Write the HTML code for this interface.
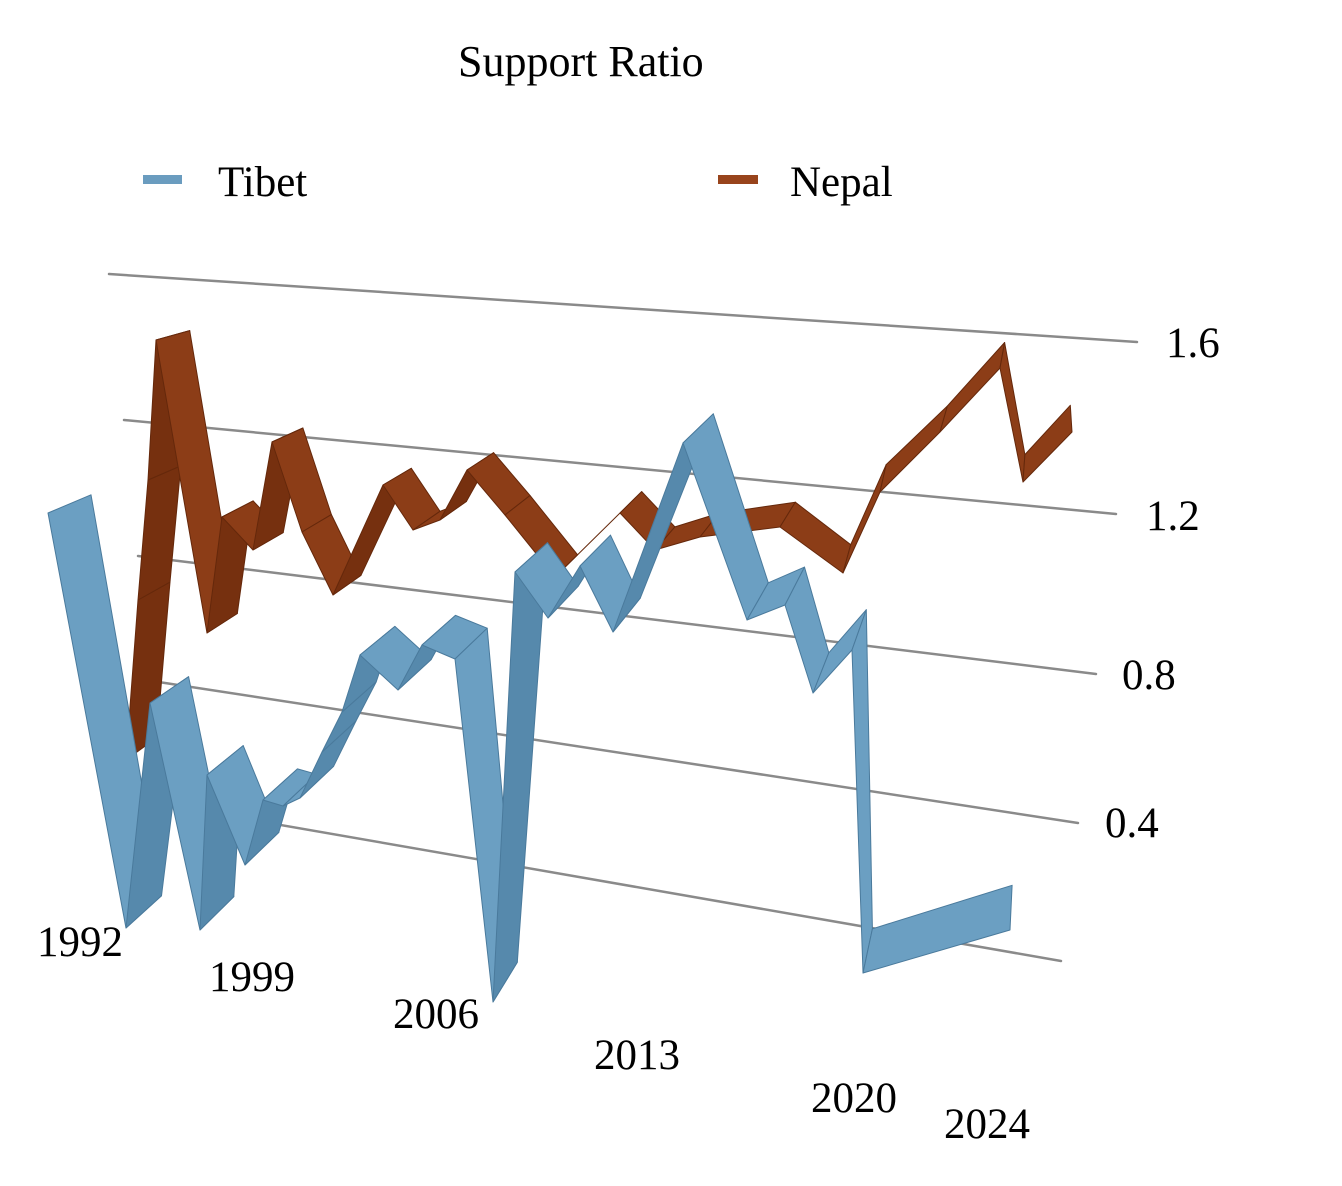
<!DOCTYPE html>
<html><head><meta charset="utf-8"><style>
html,body{margin:0;padding:0;background:#fff;}
svg{display:block;}
text{font-family:"Liberation Serif","DejaVu Serif",serif;fill:#000;}
</style></head><body>
<svg id="c" width="1342" height="1186" viewBox="0 0 1342 1186" xmlns="http://www.w3.org/2000/svg">
<rect width="1342" height="1186" fill="#fff"/>
<text x="458" y="76" font-size="44">Support Ratio</text>
<rect x="143" y="175" width="39" height="9" fill="#6a9cbf"/>
<text x="218" y="196" font-size="43">Tibet</text>
<rect x="718" y="175" width="40" height="9" fill="#98441c"/>
<text x="790" y="196" font-size="43">Nepal</text>
<g stroke="#8a8a8a" stroke-width="2.5" stroke-linecap="round">
<line x1="109" y1="274" x2="1137" y2="342"/>
<line x1="124" y1="420" x2="1116" y2="514"/>
<line x1="138" y1="556" x2="1096" y2="674"/>
<line x1="152" y1="681" x2="1078" y2="823"/>
<line x1="166" y1="805" x2="1061" y2="961"/>
</g>
<g id="nepal"></g>
<g id="tibet"></g>
<g font-size="43">
<text x="1166" y="357">1.6</text>
<text x="1146" y="530">1.2</text>
<text x="1122" y="689">0.8</text>
<text x="1105" y="837">0.4</text>
<text x="37" y="956">1992</text>
<text x="209" y="991">1999</text>
<text x="393" y="1028">2006</text>
<text x="594" y="1069">2013</text>
<text x="811" y="1112">2020</text>
<text x="944" y="1138">2024</text>
</g>
</svg>
<script>
(function(){
var NS="http://www.w3.org/2000/svg";
var VP=[1050,90];
function mk(k0,k1,bend){return function(p){var dx=VP[0]-p[0],dy=VP[1]-p[1],d=Math.sqrt(dx*dx+dy*dy),L=k0+k1*d;
 var ux=dx/d,uy=dy/d;
 if(bend){var w=0.5*(1-Math.abs(p[0]-870)/90);if(w>0){ux=ux*(1-w);uy=uy*(1-w)-w;var n=Math.sqrt(ux*ux+uy*uy);ux/=n;uy/=n;}}
 return [ux*L,uy*L];};}
var dT=mk(38,0.008,false), dN=mk(22,0.014,true);
function ribbon(id,pts,df,top,bot,edge){
 var g=document.getElementById(id);
 for(var i=0;i<pts.length-1;i++){
  var a=pts[i],b=pts[i+1],da=df(a),db=df(b);
  var sx=b[0]-a[0],sy=b[1]-a[1];
  var mx=(da[0]+db[0])/2,my=(da[1]+db[1])/2;
  var cr=sx*my-sy*mx;
  var p=document.createElementNS(NS,"polygon");
  var q=[a,b,[b[0]+db[0],b[1]+db[1]],[a[0]+da[0],a[1]+da[1]]];
  p.setAttribute("points",q.map(function(v){return v[0].toFixed(1)+","+v[1].toFixed(1);}).join(" "));
  p.setAttribute("fill",cr<0?top:bot);
  p.setAttribute("stroke",edge);
  p.setAttribute("stroke-width","1");
  p.setAttribute("stroke-linejoin","round");
  g.appendChild(p);
 }
}
var N=[[126,760],[138,600],[148,480],[156,340],[207,633],[222,517],[253,550],[272,442],[302,532],[333,595],[383,485],[413,530],[440,520],[467,470],[505,515],[555,577],[620,513],[655,550],[700,537],[780,527],[843,573],[880,492],[940,432],[1000,368],[1023,482],[1072,432]];
var T=[[48,513],[126,928],[150,703],[200,930],[207,775],[245,865],[263,800],[283,806],[300,798],[322,752],[342,712],[360,655],[398,690],[422,645],[455,659],[493,1002],[515,572],[548,618],[580,566],[613,632],[683,443],[747,620],[785,605],[813,693],[852,650],[863,973],[1010,930]];
ribbon("nepal",N,dN,"#8c3d17","#76300f","#65280b");
ribbon("tibet",T,dT,"#6b9fc2","#5689ac","#4a7a9c");
})();
</script>
</body></html>
